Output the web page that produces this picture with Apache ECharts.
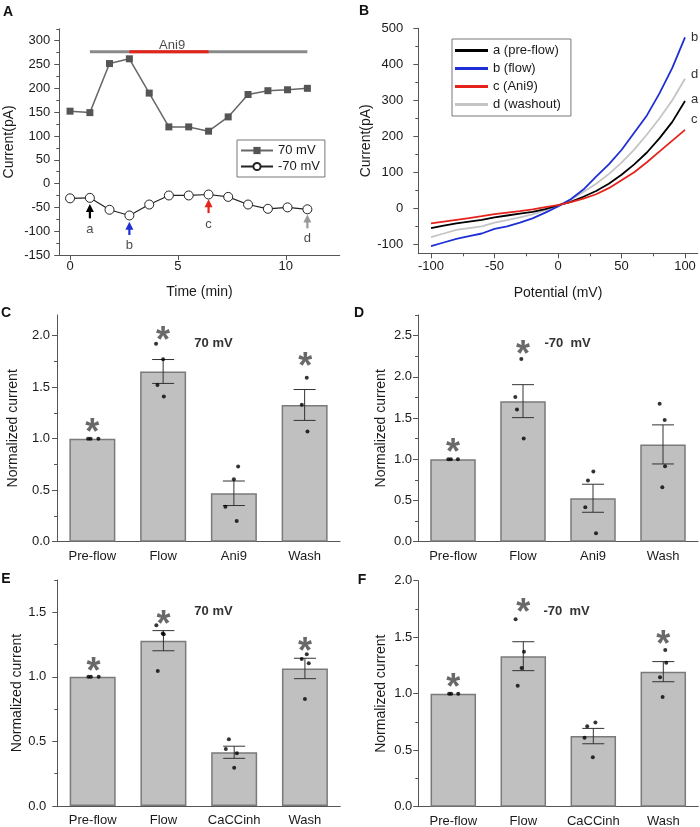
<!DOCTYPE html>
<html>
<head>
<meta charset="utf-8">
<script src="https://cdn.jsdelivr.net/npm/echarts@6/dist/echarts.min.js"></script>
<style>
html, body { margin: 0; padding: 0; background: #fff; }
#main { width: 700px; height: 827px; }
</style>
</head>
<body>
<div id="main"></div>
<script>
// ---- panel A: current vs time ----
var timeA = [0, 0.92, 1.83, 2.75, 3.67, 4.58, 5.5, 6.42, 7.33, 8.25, 9.17, 10.08, 11.0];
var pos70 = [152, 149, 252, 262, 190, 119, 119, 110, 140, 187, 195, 197, 200];
var neg70 = [-31, -30, -55, -67, -44, -25, -25, -23, -28, -44, -53, -50, -54];
var flowSpan = [0.92, 11.0];
var ani9Span = [2.75, 6.42];
var spanLevel = 277;
var ani9Text = [4.73, 291];
var arrowNames = ['a', 'b', 'c', 'd'];
var arrowTime = [0.92, 2.75, 6.42, 11.0];
var arrowTip = [-43, -80, -33, -65];
var arrowTail = [-73, -108, -62, -94];
var arrowNameY = [-96, -130, -85, -115];
var ticksAx = [0, 5, 10];
var ticksAy = [-150, -100, -50, 0, 50, 100, 150, 200, 250, 300];
var minorAy = [-125, -75, -25, 25, 75, 125, 175, 225, 275, 325];

// ---- panel B: I-V curves ----
var potB = [-100, -90, -80, -70, -60, -50, -40, -30, -20, -10, 0, 10, 20, 30, 40, 50, 60, 70, 80, 90, 100];
var ivPre = [-55, -48, -42, -37, -32, -25, -20, -15, -10, -2, 8, 18, 32, 48, 68, 93, 122, 155, 195, 240, 298];
var ivFlow = [-105, -95, -85, -77, -70, -57, -50, -40, -28, -12, 5, 25, 52, 88, 122, 162, 210, 258, 320, 390, 475];
var ivAni9 = [-42, -37, -32, -27, -22, -16, -12, -8, -3, 3, 9, 17, 27, 39, 56, 78, 100, 128, 158, 188, 218];
var ivWash = [-80, -70, -60, -55, -50, -40, -33, -25, -17, -5, 8, 24, 45, 68, 95, 127, 163, 205, 250, 300, 360];
var ticksBx = [-100, -50, 0, 50, 100];
var minorBx = [-75, -25, 25, 75];
var ticksBy = [-100, 0, 100, 200, 300, 400, 500];
var minorBy = [-50, 50, 150, 250, 350, 450];

// ---- panels C-F: normalized current ----
var catsAni9 = ['Pre-flow', 'Flow', 'Ani9', 'Wash'];
var catsCaCC = ['Pre-flow', 'Flow', 'CaCCinh', 'Wash'];

var meanC = [1.0, 1.652, 0.470, 1.327];
var semC = [0, 0.116, 0.119, 0.150];
var dotsC = [[-0.06, 1.0], [-0.025, 1.0], [0.085, 1.0], [0.9, 1.92], [1.0, 1.77], [0.92, 1.52], [1.01, 1.41],
	[2.06, 0.73], [2.0, 0.605], [1.88, 0.34], [2.04, 0.20], [3.03, 1.59], [2.96, 1.33], [3.04, 1.07]];
var starsC = [[0, 1.13], [1, 2.02], [3.01, 1.77]];
var ticksC = [0, 0.5, 1.0, 1.5, 2.0];
var minorC = [0.25, 0.75, 1.25, 1.75];

var meanD = [1.0, 1.705, 0.527, 1.18];
var semD = [0, 0.2, 0.17, 0.237];
var dotsD = [[-0.067, 1.0], [-0.03, 1.0], [0.07, 1.0], [0.976, 2.216], [0.89, 1.754], [0.914, 1.604], [1.01, 1.252],
	[2.005, 0.851], [1.928, 0.741], [1.89, 0.417], [2.043, 0.101], [2.952, 1.673], [3.024, 1.475], [3.029, 0.916], [2.99, 0.66]];
var starsD = [[0, 1.175], [1, 2.36]];
var ticksD = [0, 0.5, 1.0, 1.5, 2.0, 2.5];
var minorD = [0.25, 0.75, 1.25, 1.75, 2.25, 2.75];

var meanE = [1.0, 1.28, 0.416, 1.065];
var semE = [0, 0.078, 0.047, 0.079];
var dotsE = [[-0.06, 1.0], [-0.025, 1.0], [0.085, 1.0], [0.9, 1.40], [0.99, 1.335], [1.005, 1.33], [0.92, 1.046],
	[1.925, 0.516], [1.882, 0.441], [2.038, 0.408], [2.0, 0.297], [3.026, 1.175], [2.955, 1.139], [3.054, 1.105], [3.0, 0.829]];
var starsE = [[0.01, 1.10], [1, 1.46], [3, 1.25]];
var ticksE = [0, 0.5, 1.0, 1.5];
var minorE = [0.25, 0.75, 1.25, 1.75];

var meanF = [1.0, 1.332, 0.625, 1.195];
var semF = [0, 0.128, 0.068, 0.089];
var dotsF = [[-0.06, 1.0], [-0.03, 1.0], [0.07, 1.0], [0.89, 1.658], [1.01, 1.372], [0.976, 1.227], [0.92, 1.071],
	[2.03, 0.746], [1.913, 0.711], [1.875, 0.611], [1.993, 0.437], [3.028, 1.386], [3.042, 1.274], [2.953, 1.145], [2.99, 0.971]];
var starsF = [[0, 1.12], [1, 1.785], [3, 1.50]];
var ticksF = [0, 0.5, 1.0, 1.5, 2.0];
var minorF = [0.25, 0.75, 1.25, 1.75];

var font = 'Liberation Sans, Arial, sans-serif';
var axisColor = '#555';
var textColor = '#1a1a1a';
var arrowColors = ['#000000', '#1f2fd6', '#e5231b', '#999999'];

var xAxes = [];
var yAxes = [];
var series = [];

function zip(xs, ys) {
	var out = [];
	for (var i = 0; i < xs.length; i++) out.push([xs[i], ys[i]]);
	return out;
}

function fmtInt(v) { return String(v); }
function fmtOne(v) { return v.toFixed(1); }

function addValueAxis(list, grid, pos, min, max, majors, minors, margin, fmt, name, nameGap) {
	list.push({
		type: 'value', gridIndex: grid, position: pos, min: min, max: max,
		splitLine: {show: false},
		axisLine: {show: true, onZero: false, lineStyle: {color: axisColor, width: 1}},
		axisTick: {show: true, length: 5, customValues: majors, lineStyle: {color: axisColor}},
		axisLabel: {customValues: majors, margin: margin, color: textColor, fontSize: 13, fontFamily: font, formatter: fmt},
		name: name, nameLocation: 'middle', nameGap: nameGap,
		nameTextStyle: {fontSize: 14, color: textColor, fontFamily: font}
	});
	var idx = list.length - 1;
	if (minors) {
		list.push({
			type: 'value', gridIndex: grid, position: pos, min: min, max: max,
			splitLine: {show: false},
			axisLine: {show: false, onZero: false},
			axisLabel: {show: false},
			axisTick: {show: true, length: 3, customValues: minors, lineStyle: {color: axisColor}}
		});
	}
	return idx;
}

function addBarPanel(grid, cats, means, sems, dots, stars, ticks, minors, yMax, yMargin, nameGap) {
	xAxes.push({
		type: 'category', gridIndex: grid, position: 'bottom', data: cats,
		axisLine: {onZero: false, lineStyle: {color: axisColor}},
		axisTick: {show: false},
		axisLabel: {margin: 8, color: textColor, fontSize: 13, fontFamily: font}
	});
	var xc = xAxes.length - 1;
	xAxes.push({type: 'value', gridIndex: grid, min: -0.5, max: 3.5, show: false});
	var xv = xAxes.length - 1;
	var y = addValueAxis(yAxes, grid, 'left', 0, yMax, ticks, minors, yMargin, fmtOne, 'Normalized current', nameGap);

	series.push({
		type: 'bar', xAxisIndex: xc, yAxisIndex: y, data: means, barWidth: '65%',
		itemStyle: {color: '#c0c0c0', borderColor: '#7a7a7a', borderWidth: 1.5}
	});
	var errData = [];
	for (var i = 0; i < means.length; i++) errData.push([i, means[i], sems[i]]);
	series.push({
		type: 'custom', xAxisIndex: xc, yAxisIndex: y, data: errData, z: 4,
		renderItem: function (params, api) {
			var m = api.value(1), e = api.value(2);
			if (!e) return null;
			var hi = api.coord([api.value(0), m + e]);
			var lo = api.coord([api.value(0), m - e]);
			var w = 11;
			var st = {stroke: '#333', lineWidth: 1};
			return {
				type: 'group', children: [
					{type: 'line', shape: {x1: hi[0], y1: hi[1], x2: lo[0], y2: lo[1]}, style: st},
					{type: 'line', shape: {x1: hi[0] - w, y1: hi[1], x2: hi[0] + w, y2: hi[1]}, style: st},
					{type: 'line', shape: {x1: lo[0] - w, y1: lo[1], x2: lo[0] + w, y2: lo[1]}, style: st}
				]
			};
		}
	});
	series.push({
		type: 'scatter', xAxisIndex: xv, yAxisIndex: y, data: dots, z: 5,
		symbolSize: 4, itemStyle: {color: '#000'}
	});
	series.push({
		type: 'scatter', xAxisIndex: xv, yAxisIndex: y, data: stars, z: 5, symbolSize: 0,
		label: {show: true, position: 'inside', formatter: '*', fontSize: 36, fontWeight: 'bold', fontFamily: font, color: '#444', offset: [0, 9]}
	});
}

// A axes
var axA = addValueAxis(xAxes, 0, 'bottom', -0.5, 12.5, ticksAx, null, 5, fmtInt, 'Time (min)', 30);
var ayA = addValueAxis(yAxes, 0, 'left', -150, 325, ticksAy, minorAy, 9, fmtInt, 'Current(pA)', 43);
// B axes
var axB = addValueAxis(xAxes, 1, 'bottom', -110, 110, ticksBx, minorBx, 7, fmtInt, 'Potential (mV)', 33);
var ayB = addValueAxis(yAxes, 1, 'left', -125, 500, ticksBy, minorBy, 15, fmtInt, 'Current(pA)', 43);

// A series
series.push({
	name: '70 mV', type: 'line', xAxisIndex: axA, yAxisIndex: ayA, data: zip(timeA, pos70),
	symbol: 'rect', symbolSize: 7, z: 3,
	itemStyle: {color: '#555'}, lineStyle: {color: '#666', width: 1.5}
});
series.push({
	name: '-70 mV', type: 'line', xAxisIndex: axA, yAxisIndex: ayA, data: zip(timeA, neg70),
	symbol: 'circle', symbolSize: 9, z: 3,
	itemStyle: {color: '#fff', borderColor: '#222', borderWidth: 1}, lineStyle: {color: '#222', width: 1.2}
});
series.push({
	type: 'line', xAxisIndex: axA, yAxisIndex: ayA, symbol: 'none', z: 2,
	data: [[flowSpan[0], spanLevel], [flowSpan[1], spanLevel]],
	lineStyle: {color: '#8a8a8a', width: 3}
});
series.push({
	type: 'line', xAxisIndex: axA, yAxisIndex: ayA, symbol: 'none', z: 3,
	data: [[ani9Span[0], spanLevel], [ani9Span[1], spanLevel]],
	lineStyle: {color: '#e5231b', width: 3}
});
series.push({
	type: 'scatter', xAxisIndex: axA, yAxisIndex: ayA, symbolSize: 0, data: [ani9Text],
	label: {show: true, position: 'inside', formatter: 'Ani9', fontSize: 13, fontFamily: font, color: textColor}
});
var arrowData = [];
var arrowLabelData = [];
for (var i = 0; i < arrowTime.length; i++) {
	arrowData.push([arrowTime[i], arrowTail[i], arrowTip[i]]);
	arrowLabelData.push({value: [arrowTime[i], arrowNameY[i]], name: arrowNames[i]});
}
series.push({
	type: 'custom', xAxisIndex: axA, yAxisIndex: ayA, data: arrowData, z: 4,
	renderItem: function (params, api) {
		var t = api.value(0);
		var p0 = api.coord([t, api.value(1)]);
		var p1 = api.coord([t, api.value(2)]);
		var c = arrowColors[params.dataIndex];
		var head = 8, hw = 4;
		return {
			type: 'group', children: [
				{type: 'line', shape: {x1: p0[0], y1: p0[1], x2: p1[0], y2: p1[1] + head - 1}, style: {stroke: c, lineWidth: 2.2}},
				{type: 'polygon', shape: {points: [[p1[0], p1[1]], [p1[0] - hw, p1[1] + head], [p1[0] + hw, p1[1] + head]]}, style: {fill: c}}
			]
		};
	}
});
series.push({
	type: 'scatter', xAxisIndex: axA, yAxisIndex: ayA, symbolSize: 0, data: arrowLabelData,
	label: {show: true, position: 'inside', formatter: '{b}', fontSize: 13, fontFamily: font, color: textColor}
});

// B series (drawn washout first so the others sit on top)
function ivSeries(name, values, color, tag, dy) {
	return {
		name: name, type: 'line', xAxisIndex: axB, yAxisIndex: ayB, data: zip(potB, values),
		symbol: 'none', lineStyle: {color: color, width: 1.8}, itemStyle: {color: color},
		endLabel: {show: true, formatter: tag, fontSize: 13, fontFamily: font, color: '#333', distance: 6, offset: [0, dy]}
	};
}
series.push(ivSeries('d (washout)', ivWash, '#c4c4c4', 'd', -4));
series.push(ivSeries('a (pre-flow)', ivPre, '#000000', 'a', -2));
series.push(ivSeries('b (flow)', ivFlow, '#1f2fd6', 'b', 0));
series.push(ivSeries('c (Ani9)', ivAni9, '#e5231b', 'c', -10));

// C-F
addBarPanel(2, catsAni9, meanC, semC, dotsC, starsC, ticksC, minorC, 2.2, 7, 37);
addBarPanel(3, catsAni9, meanD, semD, dotsD, starsD, ticksD, minorD, 2.75, 6, 30);
addBarPanel(4, catsCaCC, meanE, semE, dotsE, starsE, ticksE, minorE, 1.75, 11, 30);
addBarPanel(5, catsCaCC, meanF, semF, dotsF, starsF, ticksF, minorF, 2.0, 6, 30);

function panelText(txt, x, y) {
	return {
		type: 'text', x: x, y: y, z: 10,
		style: {text: txt, fill: '#111', font: 'bold 14px ' + font, align: 'center', verticalAlign: 'middle'}
	};
}
function noteText(txt, x, y) {
	return {
		type: 'text', x: x, y: y, z: 10,
		style: {text: txt, fill: '#333', font: 'bold 13px ' + font, align: 'center', verticalAlign: 'middle'}
	};
}

var option = {
	animation: false,
	backgroundColor: '#fff',
	grid: [
		{left: 59.25, top: 28.8, width: 280.5, height: 226.2, outerBoundsMode: 'none'},
		{left: 418.3, top: 28.3, width: 279.4, height: 225, outerBoundsMode: 'none'},
		{left: 57, top: 315, width: 283, height: 226.7, outerBoundsMode: 'none'},
		{left: 418, top: 315, width: 280, height: 226.7, outerBoundsMode: 'none'},
		{left: 57.3, top: 580, width: 283, height: 226, outerBoundsMode: 'none'},
		{left: 418.3, top: 580.7, width: 280, height: 226, outerBoundsMode: 'none'}
	],
	legend: [
		{
			data: ['70 mV', '-70 mV'], orient: 'vertical', left: 237, top: 140,
			padding: [4, 5, 4, 3], itemGap: 3, itemWidth: 32, itemHeight: 9,
			borderColor: '#777', borderWidth: 1, selectedMode: false,
			textStyle: {fontSize: 13, fontFamily: font, color: textColor}
		},
		{
			data: ['a (pre-flow)', 'b (flow)', 'c (Ani9)', 'd (washout)'], orient: 'vertical', left: 452, top: 39,
			padding: [5, 10, 5, 3], itemGap: 5, itemWidth: 33, itemHeight: 3, icon: 'rect',
			borderColor: '#777', borderWidth: 1, selectedMode: false,
			textStyle: {fontSize: 13, fontFamily: font, color: textColor}
		}
	],
	xAxis: xAxes,
	yAxis: yAxes,
	series: series,
	graphic: [
		panelText('A', 8, 12),
		panelText('B', 364, 11),
		panelText('C', 6, 313),
		panelText('D', 359, 313),
		panelText('E', 6, 579),
		panelText('F', 362, 580),
		noteText('70 mV', 213.5, 343),
		noteText('-70  mV', 567.5, 343),
		noteText('70 mV', 213.5, 611.7),
		noteText('-70  mV', 566.5, 611.7)
	]
};

var myChart = echarts.init(document.getElementById('main'));
myChart.setOption(option);
</script>
</body>
</html>
